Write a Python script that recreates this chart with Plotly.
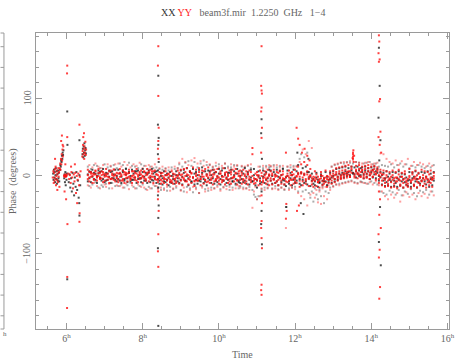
import plotly.graph_objects as go

# ---------------- data (hours, degrees) ----------------
T_BAND = [6.56,6.60,6.64,6.68,6.72,6.76,6.80,6.84,6.88,6.92,6.96,7.00,7.04,7.08,7.12,7.16,7.20,7.24,7.28,7.32,
          7.36,7.40,7.44,7.48,7.52,7.56,7.60,7.64,7.68,7.72,7.76,7.80,7.84,7.88,7.92,7.96,8.00,8.04,8.08,8.12,
          8.16,8.20,8.24,8.28,8.32,8.36,8.40,8.44,8.48,8.52,8.56,8.60,8.64,8.68,8.72,8.76,8.80,8.84,8.88,8.92,
          8.96,9.00,9.04,9.08,9.12,9.16,9.20,9.24,9.28,9.32,9.36,9.40,9.44,9.48,9.52,9.56,9.60,9.64,9.68,9.72,
          9.76,9.80,9.84,9.88,9.92,9.96,10.00,10.04,10.08,10.12,10.16,10.20,10.24,10.28,10.32,10.36,10.40,10.44,10.48,10.52,
          10.56,10.60,10.64,10.68,10.72,10.76,10.80,10.84,10.88,10.92,10.96,11.00,11.04,11.08,11.12,11.16,11.20,11.24,11.28,11.32,
          11.36,11.40,11.44,11.48,11.52,11.56,11.60,11.64,11.68,11.72,11.76,11.80,11.84,11.88,11.92,11.96,12.00,12.04,12.08,12.12,
          12.16,12.20,12.24,12.28,12.32,12.36,12.40,12.44,12.48,12.52,12.56,12.60,12.64,12.68,12.72,12.76,12.80,12.84,12.88,12.92,
          12.96,13.00,13.04,13.08,13.12,13.16,13.20,13.24,13.28,13.32,13.36,13.40,13.44,13.48,13.52,13.56,13.60,13.64,13.68,13.72,
          13.76,13.80,13.84,13.88,13.92,13.96,14.00,14.04,14.08,14.12,14.16,14.20,14.24,14.28,14.32,14.36,14.40,14.44,14.48,14.52,
          14.56,14.60,14.64,14.68,14.72,14.76,14.80,14.84,14.88,14.92,14.96,15.00,15.04,15.08,15.12,15.16,15.20,15.24,15.28,15.32,
          15.36,15.40,15.44,15.48,15.52,15.56,15.60,15.64]

# YY (red) band rows
YY_R1 = [1,-2,3,0,-4,2,-1,4,-3,1,2,-1,0,3,-2,-4,1,0,2,-3,
         3,-1,0,-4,2,1,-2,4,-3,0,1,-2,3,-1,-4,2,0,-3,1,4,
         -2,0,3,-1,-4,2,1,-3,-5,0,-2,-4,1,-3,0,-6,-1,-4,-2,0,
         -3,1,-2,-5,0,2,-4,-1,3,-2,-6,0,-3,1,-4,2,-1,-5,0,-2,
         1,-3,-1,2,-4,0,-2,3,-5,-1,1,-3,0,-4,2,-2,-1,3,-5,0,
         -2,1,-4,0,-3,2,-1,-5,0,-3,-4,1,-2,-6,0,-3,1,-4,-2,0,
         -3,1,-4,-1,0,-5,-2,1,-3,-4,-1,0,-2,-5,1,-3,-4,0,2,-1,
         3,-2,1,-4,2,-1,0,-3,-5,-2,-4,-1,-6,-3,0,-5,-2,-4,-1,-3,
         0,-2,1,2,-1,3,0,2,4,3,5,2,6,4,25,3,6,4,2,5,
         7,3,5,2,6,4,3,7,5,2,6,1,-1,2,-3,-5,-2,-6,-4,-1,
         -5,-3,-7,-2,-4,-6,-1,-5,-3,-8,-4,-2,-6,-5,-3,-1,-7,-4,-2,-6,
         -3,-5,-1,-4,-6,-2,-4,-3]
YY_R2 = [-4,5,-1,3,-5,6,-2,0,4,-3,5,-6,2,-1,6,-4,3,-5,1,-2,
         -5,4,2,-6,5,-3,3,-1,-5,6,-2,4,-6,1,5,-3,-1,6,-4,2,
         5,-4,-1,6,-3,2,-5,-1,3,-7,-4,1,-6,2,-5,-8,3,-4,-7,1,
         4,-6,2,-3,5,-7,1,-5,4,-2,-7,3,-6,5,-4,-1,6,-5,2,-7,
         4,-5,2,-7,5,-3,-6,3,-1,-6,4,-4,2,-7,5,-3,-1,4,-6,3,
         -5,4,-6,2,-7,3,-4,5,28,-6,3,-5,1,-7,4,-6,-2,3,-7,2,
         -6,3,-5,1,-7,4,-2,-6,2,-4,-7,3,-6,1,-5,2,-7,-1,4,-6,
         5,-7,3,-6,6,-4,1,-7,-1,-6,2,-8,-4,1,-7,-3,-8,0,-5,2,
         -6,3,-4,5,-3,6,-2,7,0,8,1,6,-1,9,28,0,8,2,9,-1,
         8,0,9,-2,10,1,7,-1,9,3,8,-4,4,-6,2,-9,1,-10,-3,-8,
         1,-10,-2,-7,2,-11,-1,-9,3,-6,-10,0,-8,2,-11,-4,1,-9,-2,-7,
         1,-10,-3,-8,2,-9,-5,0]
YY_R3 = [8,-7,5,-9,2,7,-6,9,-4,6,-8,3,9,-5,-9,7,-3,8,-7,4,
         -8,9,-6,7,-9,4,-7,8,-3,-9,6,-5,9,-8,3,7,-9,5,-6,9,
         -7,8,6,-9,7,-5,-8,5,-10,4,-9,6,-11,3,-8,6,-10,2,-9,7,
         -10,8,-12,9,-7,10,-11,6,-9,11,-13,8,-6,10,-12,7,-10,9,-8,11,
         -9,7,-11,8,-6,9,-10,6,-8,10,-11,5,-9,7,-10,8,-7,9,-11,6,
         7,-10,8,-9,6,-11,7,-8,36,-10,-9,5,-12,7,-11,-8,6,-10,8,-12,
         6,-11,8,-9,5,-12,7,-10,6,-11,30,-8,7,-12,5,-10,8,-9,12,-14,
         15,-12,18,-10,14,-13,9,-11,-14,6,-13,-8,-15,5,-12,-10,7,-14,-9,6,
         -10,7,-8,10,-6,11,-4,12,-3,13,-2,14,-1,12,22,-2,13,-3,14,-1,
         12,-3,13,-2,14,-4,12,-1,13,-5,11,-9,8,-12,7,-14,6,-13,5,-15,
         7,-14,5,-16,8,-13,4,-15,6,-12,-14,9,-16,5,-13,7,-15,4,-12,8,
         -13,6,-15,5,-12,7,-14,4]
YY_TAIL = [-12,14,-15,11,-9,16,-13,12,-16,10,14,-11,-14,15,-10,13,-16,9,15,-12,
           16,-13,12,-15,18,-10,14,-17,11,-12,15,-16,13,-11,17,-14,10,-15,13,-18,
           14,-16,12,-11,15,-13,-17,10,-15,12,-18,9,-14,11,-19,8,-16,12,-13,10,
           17,-19,22,-15,18,-21,14,-18,20,-14,23,-17,16,-22,19,-15,13,-20,18,-16,
           15,-18,12,-16,17,-14,11,-19,13,-15,16,-17,10,-14,15,-18,12,-16,14,-13,
           -15,13,-17,12,-16,14,-18,15,-41,-20,-14,-30,12,-26,-16,13,-18,11,-15,14,
           13,-17,12,-16,14,-18,11,-15,13,-17,-67,12,-18,14,-15,11,-17,13,-22,18,
           -26,34,-30,28,-38,45,-24,36,-22,-28,-18,-34,-20,-36,-16,-26,-14,-30,-12,-18,
           12,-14,15,-11,16,-12,17,-10,18,-9,17,-8,19,-7,20,-9,18,-10,17,-8,
           16,-9,17,-10,18,-8,15,-11,16,-7,17,-12,29,-20,28,-26,22,-30,18,-24,
           16,-28,20,-22,14,-33,19,-25,15,-21,22,-27,13,-24,18,-30,14,-22,17,-26,
           15,-23,12,-28,16,-20,13,-25]

# XX (black) band rows
XX_R1 = [2,-3,5,-1,4,-5,0,3,-2,6,-4,1,-6,3,-1,5,-3,2,-5,0,
         -4,3,-1,5,-6,2,-3,4,0,-5,3,-2,6,-4,1,-3,5,-1,-6,2,
         4,-2,-5,3,-1,6,-4,-6,0,-3,-7,1,-5,-2,-8,0,-4,-6,1,-3,
         2,-5,-1,4,-6,0,-3,5,-7,-2,3,-5,1,-6,-1,4,-4,-7,2,-3,
         -5,1,-3,4,-6,-1,3,-4,0,-6,2,-2,-5,4,-3,-7,1,-4,3,-6,
         0,-4,3,-6,-1,2,-5,-2,-7,1,-4,-6,0,-3,-8,-1,2,-5,-3,1,
         -6,0,-4,2,-7,-1,-3,1,-5,-6,-2,0,-7,-3,1,-5,-2,-6,3,-4,
         4,-5,2,-7,5,-3,-1,-6,-4,-7,-2,-5,-8,0,-6,-3,-7,-1,-5,-4,
         -2,0,-4,2,-1,3,1,4,2,6,3,5,1,7,4,2,6,3,7,1,
         5,2,7,3,6,1,5,8,2,6,4,0,-2,1,-6,-3,-8,-1,-5,-7,
         -2,-6,-9,-3,-5,-1,-7,-4,-8,-2,-6,-5,-9,-3,-1,-7,-4,-8,-2,-6,
         -3,-7,-1,-5,-8,-4,-2,-6]
XX_R2 = [-7,6,-8,8,-4,3,-9,7,5,-6,9,-8,4,-5,7,-9,6,-3,8,-7,
         8,-6,-9,7,-4,9,-8,5,-7,8,-5,6,-9,7,-3,-8,9,-6,4,-9,
         7,-8,9,-6,5,-9,7,-10,4,-11,6,-8,3,-12,5,-9,2,-10,6,-7,
         -9,7,-11,8,-6,10,-12,6,-8,9,-11,5,-10,8,-7,11,-9,6,-12,7,
         6,-9,8,-10,5,-8,9,-11,7,-6,10,-9,4,-11,8,-7,6,-10,9,-8,
         -9,6,-8,10,-10,5,-11,8,-7,9,-12,-15,6,-10,-20,7,-9,5,-11,8,
         7,-10,5,-9,8,-12,6,-8,9,-11,-13,7,-10,4,-12,8,-9,6,14,-10,
         -12,10,-9,12,-11,5,-13,3,-10,-12,4,-14,-9,2,-11,-7,5,-12,-8,4,
         -9,6,-7,9,-5,10,-3,11,-2,12,0,10,-1,12,3,11,-2,12,0,10,
         11,-3,12,-1,10,-4,11,-2,12,-3,9,-6,5,-11,4,-13,6,-12,3,-14,
         5,-13,4,-14,6,-12,3,-15,2,-11,-13,5,-14,4,-12,6,-15,3,-10,5,
         -13,4,-11,6,-14,3,-12,5]
XX_TAIL = [12,-13,9,-11,14,-8,13,-15,10,-12,-14,15,-10,11,-16,12,-9,14,-13,10,
           -13,16,-11,14,-15,10,-12,17,-9,13,-14,12,-16,10,-13,15,-11,13,-17,9,
           -14,12,-16,10,-13,11,-15,9,-18,8,-16,10,-19,7,-14,11,-17,9,-15,10,
           15,-18,12,-20,17,-14,19,-16,13,-21,18,-15,11,-22,16,-13,20,-17,14,-19,
           14,-15,11,-16,13,-12,15,-17,10,-14,16,-13,12,-18,11,-15,14,-12,13,-16,
           -13,12,-15,11,-16,13,-14,10,-18,-24,-27,-30,-26,12,-17,10,-15,13,-16,11,
           12,-16,14,-13,11,-17,13,-15,10,-18,-40,12,-16,11,-15,13,-14,12,-20,22,
           28,-20,24,-18,30,-22,-28,-20,-33,-16,-24,-30,-18,-26,-14,-35,-20,-12,-22,-15,
           12,-13,14,-11,15,-10,17,-9,16,-8,18,-7,17,-6,16,-8,18,-9,17,-7,
           -8,16,-9,17,-10,18,-7,15,-9,16,-11,12,-20,14,-22,13,-24,12,-19,15,
           -21,11,-24,14,-18,16,-25,12,-20,15,-23,10,-17,13,-22,11,-26,14,-19,12,
           -21,10,-18,13,-24,11,-20,14]

EARLY_XX_T = [5.65,5.66,5.67,5.68,5.69,5.70,5.71,5.72,5.73,5.74,5.75,5.76,5.77,5.78,5.79,5.80,5.81,
              5.83,5.84,5.85,5.86,5.87,5.88,5.89,5.90,5.91,5.92,
              5.94,5.95,5.96,5.97,5.98,5.99,6.00,6.01,
              6.06,6.08,6.10,6.12,6.14,6.16,6.18,6.20,6.22,6.24,6.26,6.28,6.30,6.32,6.34,6.36,
              6.42,6.43,6.44,6.45,6.46,6.47,6.48,6.49,6.50,6.51]
EARLY_XX_P = [3,-5,8,-2,5,-8,1,10,-4,6,-10,2,-6,7,-3,4,-7,
              8,14,12,20,18,26,22,30,27,33,
              -3,2,-8,5,-12,0,-5,3,
              -8,2,-15,-3,-20,4,-10,-25,-2,-14,5,-18,-6,-28,1,-12,
              28,35,24,38,30,42,26,33,36,29]
EARLY_YY_T = [5.64,5.655,5.665,5.675,5.685,5.695,5.705,5.715,5.725,5.735,5.745,5.755,5.765,5.775,5.785,5.795,5.805,5.815,5.70,5.76,
              5.825,5.835,5.845,5.855,5.865,5.875,5.885,5.895,5.905,5.915,5.86,5.88,5.90,
              5.935,5.945,5.955,5.965,5.975,5.985,5.995,6.005,5.95,5.97,5.99,
              6.05,6.07,6.09,6.11,6.13,6.15,6.17,6.19,6.21,6.23,6.25,6.27,6.29,6.31,6.33,6.35,6.37,6.12,6.22,6.28,
              6.415,6.425,6.435,6.445,6.455,6.465,6.475,6.485,6.495,6.505,6.515,6.44,6.46]
EARLY_YY_P = [-2,6,-9,4,-6,9,-3,12,-12,0,7,-5,3,-8,10,-1,5,-14,22,-18,
              10,16,8,22,15,28,20,34,25,38,45,52,40,
              0,1,-1,0,2,-1,0,1,-20,15,-30,
              3,-4,1,-9,5,-2,-16,2,-7,4,-22,0,-5,3,-12,-1,6,12,15,-35,
              25,32,40,28,35,22,38,30,44,27,34,50,55]

OUT_XX_T = [6.02,6.025,6.02, 6.34,6.335,6.34,
            8.41,8.40,8.42,8.41,8.40,8.42,8.41,8.40,8.42,8.41,8.40,8.41,
            11.12,11.11,11.13,11.12,11.11,11.13, 11.77,
            12.06,12.15,12.22,12.35,
            14.20,14.22,14.19,14.24,14.21,14.23,14.20,14.25]
OUT_XX_P = [83,40,-133, 46,-35,-51,
            129,66,49,40,28,18,-15,-25,-38,-54,-93,-193,
            73,55,22,-45,-62,-88, -40,
            30,-35,-49,22,
            165,116,75,46,20,-40,-85,-115]
OUT_YY_T = [6.02,6.015,6.02,6.025,6.02,6.015, 6.34,6.345,6.34,
            8.41,8.40,8.41,8.42,8.41,8.40,8.42,8.41,8.40,8.42,8.41,8.40,8.41,
            11.12,11.11,11.12,11.13,11.12,11.11,11.13,11.12,11.11,11.12,11.13,11.12,11.11,11.12,11.13,11.12,11.11,11.12,
            11.77,11.78,11.76,
            12.04,12.08,12.12,12.18,12.25,12.32,12.38,12.05,12.10,
            13.51,13.52,13.53,13.54,13.55,
            14.20,14.21,14.19,14.22,14.20,14.23,14.21,14.24,14.19,14.22,14.26,14.20,14.23,14.21,14.25,14.19,14.22,14.20,14.23,14.21]
OUT_YY_P = [142,132,50,-62,-130,-170, 66,-48,-59,
            167,142,103,62,45,35,22,-20,-30,-45,-75,-97,-117,
            167,116,110,106,88,83,62,49,30,-25,-35,-58,-67,-80,-93,-140,-147,-153,
            -36,-45,-55,
            62,48,40,30,35,26,20,-45,-38,
            23,30,33,18,26,
            181,173,158,150,147,99,96,57,50,40,30,-20,-30,-50,-67,-75,-95,-105,-143,-158]

X_TICKS = [6, 8, 10, 12, 14, 16]
X_TICK_TEXT = ["6<sup>h</sup>", "8<sup>h</sup>", "10<sup>h</sup>", "12<sup>h</sup>", "14<sup>h</sup>", "16<sup>h</sup>"]
Y_TICKS = [-100, 0, 100]
Y_TICK_TEXT = ["\u2212100", "0", "100"]

# ---------------- assemble ----------------
for name, row in [("YY_R1", YY_R1), ("YY_R2", YY_R2), ("YY_R3", YY_R3), ("YY_TAIL", YY_TAIL),
                  ("XX_R1", XX_R1), ("XX_R2", XX_R2), ("XX_TAIL", XX_TAIL)]:
    assert len(row) == len(T_BAND), f"{name}: {len(row)} vs {len(T_BAND)}"

xx_x = T_BAND * 2 + EARLY_XX_T + OUT_XX_T
xx_y = XX_R1 + XX_R2 + EARLY_XX_P + OUT_XX_P
yy_x = T_BAND * 3 + EARLY_YY_T + OUT_YY_T
yy_y = YY_R1 + YY_R2 + YY_R3 + EARLY_YY_P + OUT_YY_P

FONT = "Liberation Serif"
GRAY = "#666666"
FRAME = "#9a9a9a"
BLACK = "#111111"
RED = "#ff1010"

fig = go.Figure()
# sparse band tails drawn fainter, like isolated antialiased pixels
fig.add_trace(go.Scatter(x=T_BAND, y=XX_TAIL, mode="markers", name="XX",
                         marker=dict(symbol="square", size=2, color=BLACK, opacity=0.35, line=dict(width=0))))
fig.add_trace(go.Scatter(x=T_BAND, y=YY_TAIL, mode="markers", name="YY",
                         marker=dict(symbol="square", size=2, color=RED, opacity=0.4, line=dict(width=0))))
fig.add_trace(go.Scatter(x=xx_x, y=xx_y, mode="markers", name="XX",
                         marker=dict(symbol="square", size=2, color=BLACK, opacity=0.75, line=dict(width=0))))
fig.add_trace(go.Scatter(x=yy_x, y=yy_y, mode="markers", name="YY",
                         marker=dict(symbol="square", size=2, color=RED, opacity=0.8, line=dict(width=0))))

axis_common = dict(showgrid=False, zeroline=False, showline=True, linecolor=FRAME, linewidth=1,
                   mirror="allticks", ticks="inside", ticklen=6, tickcolor=FRAME,
                   tickfont=dict(family=FONT, size=10, color=GRAY))

fig.update_xaxes(range=[5.20, 16.04], tickmode="array", tickvals=X_TICKS, ticktext=X_TICK_TEXT,
                 minor=dict(dtick=0.5, tick0=0, ticks="inside", ticklen=3, tickcolor=FRAME),
                 **axis_common)
fig.update_yaxes(range=[-197, 184], tickmode="array", tickvals=Y_TICKS, ticktext=Y_TICK_TEXT,
                 showticklabels=False,
                 minor=dict(dtick=20, tick0=0, ticks="inside", ticklen=3, tickcolor=FRAME),
                 **axis_common)

title_html = ("<span style='color:#333333'>XX</span> <span style='color:#ff2020'>YY</span>"
              "\u00a0\u00a0\u00a0beam3f.mir\u00a0 1.2250\u00a0 GHz\u00a0\u00a0 1\u22124")

annotations = [
    dict(text=title_html, xref="paper", yref="paper", x=0.299, y=1, xanchor="left", yanchor="middle",
         yshift=21, showarrow=False, font=dict(family=FONT, size=10, color=GRAY)),
    dict(text="Time", xref="paper", yref="paper", x=0.5, y=0, xanchor="center", yanchor="middle",
         yshift=-25.5, showarrow=False, font=dict(family=FONT, size=10, color=GRAY)),
    dict(text="Phase\u00a0 (degrees)", xref="paper", yref="paper", x=0, y=0.5, xanchor="center", yanchor="middle",
         xshift=-23, textangle=-90, showarrow=False, font=dict(family=FONT, size=10, color=GRAY)),
    dict(text="h", xref="paper", yref="paper", x=0, y=0, xanchor="left", yanchor="middle",
         xshift=-35, yshift=-5, showarrow=False, font=dict(family=FONT, size=7, color=GRAY)),
]
# rotated y tick labels
for v, txt in zip(Y_TICKS, Y_TICK_TEXT):
    annotations.append(dict(text=txt, xref="paper", yref="y", x=0, y=v, xanchor="center", yanchor="middle",
                            xshift=-9, textangle=-90, showarrow=False,
                            font=dict(family=FONT, size=10, color=GRAY)))

# partial frame of the neighbouring panel at the left edge (decoration)
shapes = [
    dict(type="line", xref="paper", yref="paper", x0=-32.5/419, x1=-32.5/419, y0=0, y1=1,
         line=dict(color=FRAME, width=1)),
    dict(type="line", xref="paper", yref="paper", x0=-36/419, x1=-32.5/419, y0=1, y1=1,
         line=dict(color=FRAME, width=1)),
    dict(type="line", xref="paper", yref="paper", x0=-36/419, x1=-32.5/419, y0=0, y1=0,
         line=dict(color=FRAME, width=1)),
]
k = 0
while 13.7 + 20.7 * k < 296:
    yy = 1 - (13.7 + 20.7 * k) / 296
    shapes.append(dict(type="line", xref="paper", yref="paper", x0=-36/419, x1=-32.5/419, y0=yy, y1=yy,
                       line=dict(color=FRAME, width=1)))
    k += 1

fig.update_layout(width=461, height=360, margin=dict(l=36, r=6, t=33, b=31),
                  paper_bgcolor="white", plot_bgcolor="white", showlegend=False,
                  annotations=annotations, shapes=shapes)

fig.write_html("out.html")
